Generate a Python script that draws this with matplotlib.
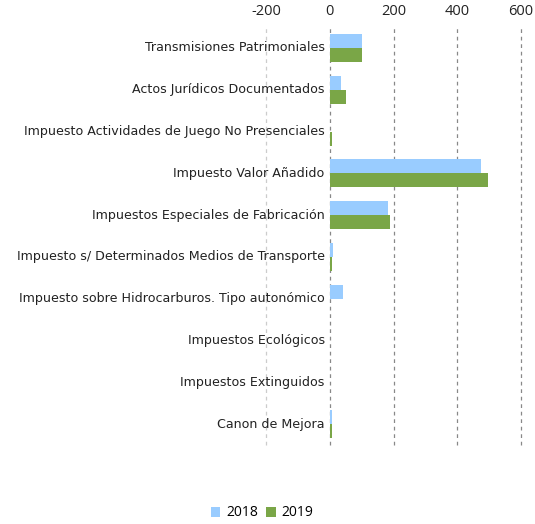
import matplotlib
matplotlib.use('Agg')
import matplotlib.pyplot as plt
import numpy as np

# Data
categories = ['Transmisiones Patrimoniales', 'Actos Jurídicos Documentados',
              'Impuesto Actividades de Juego No Presenciales', 'Impuesto Valor Añadido',
              'Impuestos Especiales de Fabricación', 'Impuesto s/ Determinados Medios de Transporte',
              'Impuesto sobre Hidrocarburos. Tipo autonómico', 'Impuestos Ecológicos',
              'Impuestos Extinguidos', 'Canon de Mejora']
vals_2018 = [102, 34, 1, 473, 182, 9, 40, 1.5, 0, 6]
vals_2019 = [100, 50, 6, 495, 188, 6, 1, 1.5, 0, 6]
xticks = [-200, 0, 200, 400, 600]

c2018 = '#99CCFF'
c2019 = '#7AA647'

plt.rcParams['font.family'] = ['Open Sans', 'DejaVu Sans']

fig = plt.figure(figsize=(5.35, 5.24), dpi=100)
ax = fig.add_axes([266/535, 1-445/524, (521-266)/535, (445-27)/524])

y = np.arange(len(categories))
h = 0.335
ax.barh(y - h/2, vals_2018, height=h, color=c2018, label='2018', zorder=3)
ax.barh(y + h/2, vals_2019, height=h, color=c2019, label='2019', zorder=3)

ax.set_xlim(-200, 600)
ax.set_ylim(len(categories) - 0.5, -0.5)
ax.set_xticks(xticks)
ax.set_xticklabels([str(t) for t in xticks])
ax.xaxis.tick_top()
ax.tick_params(axis='x', length=0, labelsize=10.5, pad=6, colors='#222222')
ax.set_yticks([])
for s in ax.spines.values():
    s.set_visible(False)

for t in xticks:
    col = '#cccccc' if t == -200 else '#888888'
    ax.axvline(t, color=col, linestyle=(0, (3, 3)), linewidth=0.9, zorder=1, clip_on=False)

# category labels sit next to the zero line
for i, name in enumerate(categories):
    ax.text(-16, i, name, ha='right', va='center', fontsize=9.1, color='#222222',
            family='DejaVu Sans', zorder=4)

fig.legend(loc='center', bbox_to_anchor=(262/535, 1-513/524), ncol=2, frameon=False,
           fontsize=10, handlelength=0.7, handleheight=0.7, columnspacing=0.6,
           handletextpad=0.4)

fig.savefig('out.png', dpi=100)
